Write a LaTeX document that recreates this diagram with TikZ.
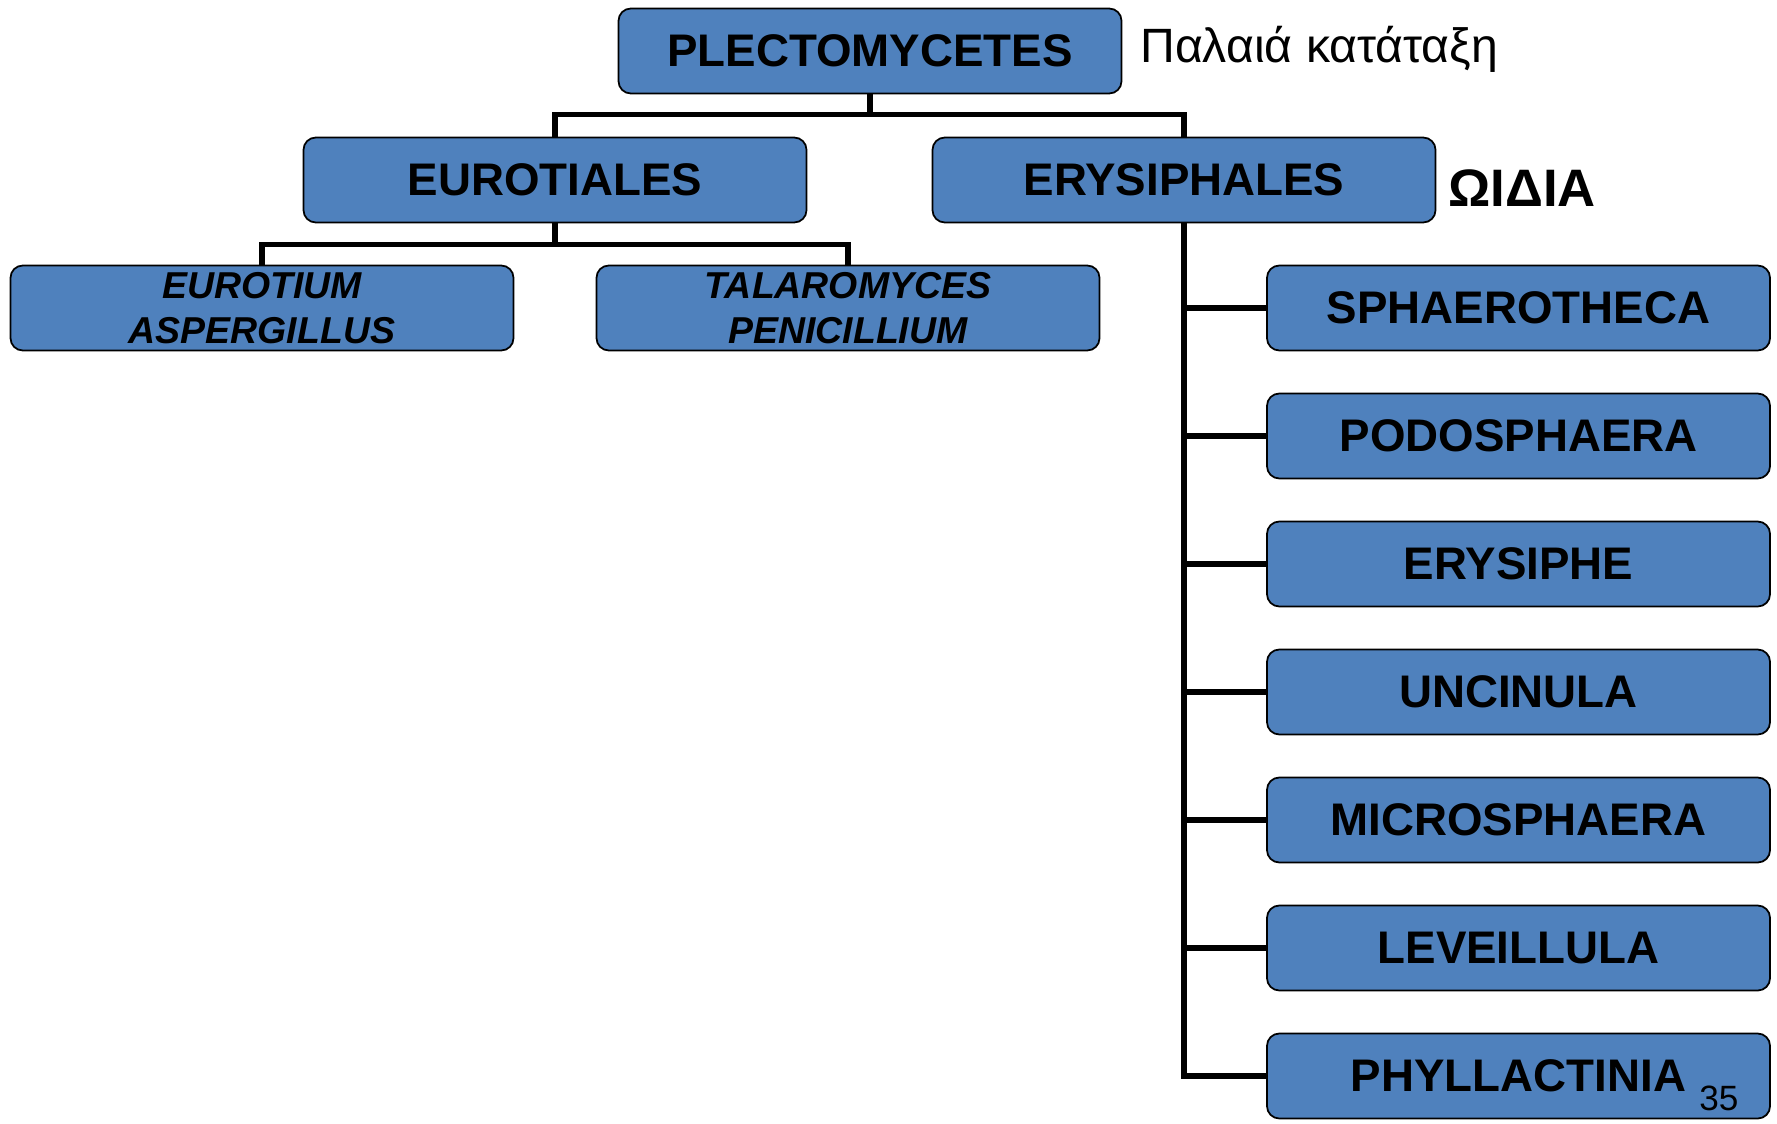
\documentclass[tikz,border=0pt]{standalone}
\usepackage{fontspec}
\setmainfont{Liberation Sans}
\definecolor{fungiblue}{RGB}{79,129,189}
\tikzset{
    taxbox/.style={draw=black, line width=1pt, fill=fungiblue, rounded corners=7pt,
        minimum width=10.06cm, minimum height=1.7cm, align=center, inner sep=0pt,
        font=\fontsize{26}{30}\selectfont\bfseries},
    genusbox/.style={taxbox, font=\fontsize{21.3}{25.6}\selectfont\bfseries\itshape},
    branch/.style={line width=3pt, black}
}

\begin{document}
\begin{tikzpicture}
    \useasboundingbox (0,0) rectangle (35.54,-22.46);

    % class
    \node[taxbox] (plect) at (17.4,-1.02) {PLECTOMYCETES};
    \node[anchor=base west, inner sep=0pt, font=\fontsize{27.4}{30}\selectfont] (oldlabel) at (22.8,-1.26) {Παλαιά κατάταξη};

    % orders
    \node[taxbox] (euro) at (11.1,-3.6) {EUROTIALES};
    \node[taxbox] (erys) at (23.68,-3.6) {ERYSIPHALES};
    \node[anchor=base west, inner sep=0pt, font=\fontsize{30}{34}\selectfont\bfseries] (oidia) at (28.96,-4.12) {ΩΙΔΙΑ};

    % Eurotiales genera
    \node[genusbox] (eurot) at (5.24,-6.16) {EUROTIUM\\ASPERGILLUS};
    \node[genusbox] (talar) at (16.96,-6.16) {TALAROMYCES\\PENICILLIUM};

    % Erysiphales genera
    \node[taxbox] (sphaer) at (30.37,-6.16) {SPHAEROTHECA};
    \node[taxbox] (podo) at (30.37,-8.72) {PODOSPHAERA};
    \node[taxbox] (erysi) at (30.37,-11.28) {ERYSIPHE};
    \node[taxbox] (uncin) at (30.37,-13.84) {UNCINULA};
    \node[taxbox] (micro) at (30.37,-16.4) {MICROSPHAERA};
    \node[taxbox] (level) at (30.37,-18.96) {LEVEILLULA};
    \node[taxbox] (phyll) at (30.37,-21.52) {PHYLLACTINIA};

    % page number
    \node[anchor=base west, inner sep=0pt, font=\fontsize{20}{24}\selectfont] (pagenum) at (33.98,-22.2) {35};

    % connectors
    \draw[branch] (plect.south) -- ++(0,-0.4) -| (euro.north);
    \draw[branch] (plect.south) -- ++(0,-0.4) -| (erys.north);
    \draw[branch] (euro.south) -- ++(0,-0.42) -| (eurot.north);
    \draw[branch] (euro.south) -- ++(0,-0.42) -| (talar.north);
    \draw[branch] (erys.south) |- (sphaer.west);
    \draw[branch] (erys.south) |- (podo.west);
    \draw[branch] (erys.south) |- (erysi.west);
    \draw[branch] (erys.south) |- (uncin.west);
    \draw[branch] (erys.south) |- (micro.west);
    \draw[branch] (erys.south) |- (level.west);
    \draw[branch] (erys.south) |- (phyll.west);
\end{tikzpicture}
\end{document}
